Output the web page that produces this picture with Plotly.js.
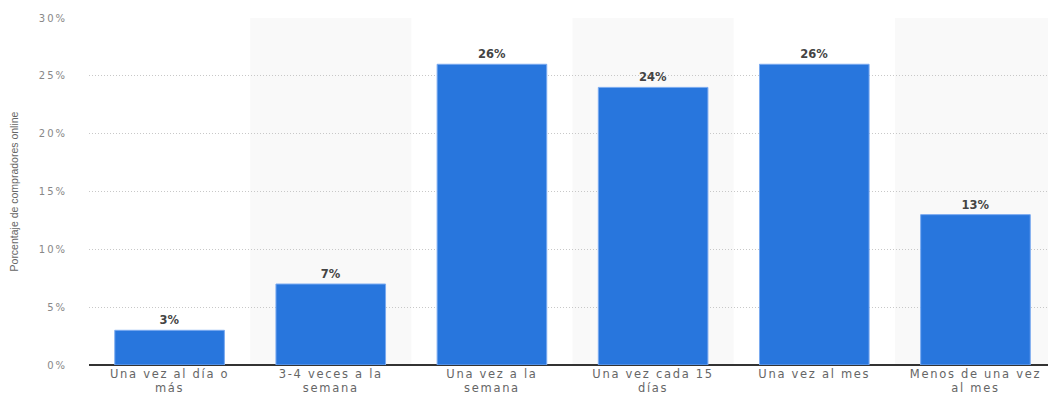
<!DOCTYPE html>
<html>
<head>
<meta charset="utf-8">
<script src="https://cdn.plot.ly/plotly-3.0.1.min.js"></script>
<style>
  html, body { margin: 0; padding: 0; background: #fff; overflow: hidden; }
  #chart { width: 1048px; height: 396px; }
  .xtick text { letter-spacing: 1.7px; }
  .ytick text { letter-spacing: 2px; }
  .textpoint text { letter-spacing: 3px; }
</style>
</head>
<body>
<div id="chart"></div>
<script>
// Frecuencia de compra online
const categories = [
  'Una vez al día o<br>más',
  '3-4 veces a la<br>semana',
  'Una vez a la<br>semana',
  'Una vez cada 15<br>días',
  'Una vez al mes',
  'Menos de una vez<br>al mes'
];
const values = [3, 7, 26, 24, 26, 13];
const yTicks = [0, 5, 10, 15, 20, 25, 30];
const yTickLabels = ['0%', '5%', '10%', '15%', '20%', '25%', '30%'];

const idx = categories.map((_, i) => i);

// Alternate light bands behind every second category
const bands = idx.filter(i => i % 2 === 1).map(i => ({
  type: 'rect', xref: 'x', yref: 'paper',
  x0: i - 0.5, x1: i + 0.5, y0: 0, y1: 1,
  fillcolor: '#f9f9f9', line: { width: 0 }, layer: 'between'
}));

const trace = {
  type: 'bar',
  x: idx,
  y: values,
  width: 0.68,
  marker: { color: '#2876dd', line: { color: '#7aaaf0', width: 1 } },
  text: values.map(v => v + '%'),
  textposition: 'outside',
  cliponaxis: false,
  textfont: { family: 'DejaVu Sans', size: 11.5, color: '#444', weight: 'bold' },
  hoverinfo: 'none'
};

const layout = {
  width: 1048, height: 396,
  margin: { l: 89, r: 0, t: 18, b: 31 },
  paper_bgcolor: '#fff', plot_bgcolor: 'rgba(0,0,0,0)',
  showlegend: false,
  shapes: bands,
  xaxis: {
    range: [-0.5, 5.45],
    tickmode: 'array', tickvals: idx, ticktext: categories,
    showgrid: false, zeroline: false,
    showline: false, ticks: '',
    ticklabelstandoff: 0,
    tickfont: { family: 'DejaVu Sans', size: 11.5, color: '#666' },
    fixedrange: true
  },
  yaxis: {
    range: [0, 30],
    tickmode: 'array', tickvals: yTicks, ticktext: yTickLabels,
    showgrid: true, gridcolor: '#c8c8c8', griddash: '1px,2px', gridwidth: 1,
    zeroline: true, zerolinecolor: '#333', zerolinewidth: 1.2,
    ticks: '', ticklabelstandoff: 21,
    tickfont: { family: 'DejaVu Sans', size: 10, color: '#888' },
    title: {
      text: 'Porcentaje de compradores online',
      font: { family: 'Liberation Sans Narrow, Liberation Sans, sans-serif', size: 10.5, color: '#666' },
      standoff: 18
    },
    fixedrange: true
  }
};

Plotly.newPlot('chart', [trace], layout, { displayModeBar: false, staticPlot: true });
</script>
</body>
</html>
